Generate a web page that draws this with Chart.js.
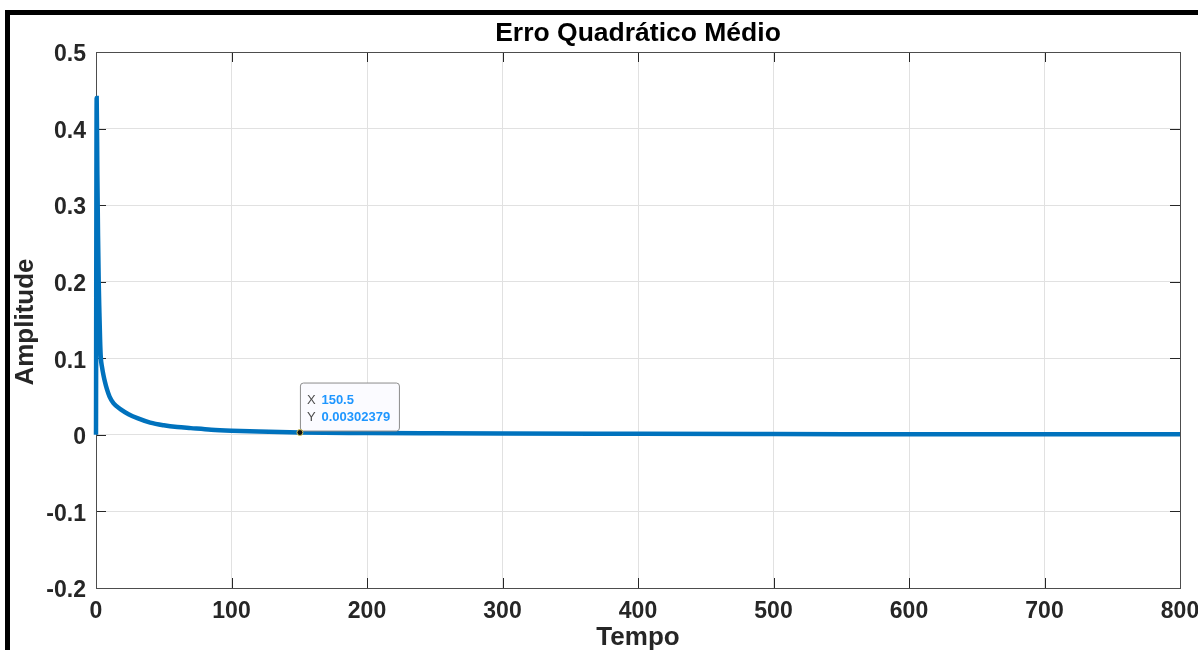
<!DOCTYPE html>
<html>
<head>
<meta charset="utf-8">
<title>Erro Quadrático Médio</title>
<script src="https://cdn.jsdelivr.net/npm/chart.js@4"></script>
<style>
    html, body { margin: 0; padding: 0; background: #fff; }
    #wrap { position: relative; width: 1198px; height: 650px; overflow: hidden; }
    #frame {
        position: absolute; left: 5px; top: 10px; width: 1193px; height: 640px;
        border-top: 5px solid #000; border-left: 5px solid #000; box-sizing: border-box;
    }
    #mseChart { position: absolute; left: 0; top: 0; }
</style>
</head>
<body>
<div id="wrap">
    <div id="frame"></div>
    <canvas id="mseChart" width="1198" height="650"></canvas>
</div>
<script>
// erro quadratico medio ao longo do tempo
const tempo = [0, 0.5, 1, 1.5, 2, 2.5, 3, 3.5, 4.5, 5.5, 6.5, 8, 10, 13, 18.5, 24, 31, 40, 50, 60, 70, 85, 100, 120, 150.5, 200, 250, 300, 400, 500, 600, 700, 800];
const erro = [0, 0.44, 0.34, 0.26, 0.2, 0.16, 0.125, 0.102, 0.088, 0.078, 0.07, 0.06, 0.05, 0.041, 0.033, 0.027, 0.0215, 0.016, 0.0125, 0.0102, 0.0088, 0.0068, 0.0055, 0.0043, 0.00302379, 0.0024, 0.002, 0.0017, 0.0013, 0.001, 0.0009, 0.0008, 0.0007];

// ponto marcado (datatip)
const tipX = 150.5;
const tipY = 0.00302379;

const titulo = 'Erro Quadrático Médio';
const tituloX = 'Tempo';
const tituloY = 'Amplitude';

const FONT = 'Liberation Sans, Arial, Helvetica, sans-serif';

// titulo e rotulos dos eixos
const titulos = {
    id: 'titulos',
    afterDraw(chart) {
        const { ctx, chartArea: a } = chart;
        const cx = (a.left + a.right) / 2;
        ctx.save();
        ctx.textAlign = 'center';
        ctx.textBaseline = 'alphabetic';

        ctx.fillStyle = '#000';
        ctx.font = 'bold 26.5px ' + FONT;
        ctx.fillText(titulo, cx, 41);

        ctx.fillStyle = '#262626';
        ctx.font = 'bold 26px ' + FONT;
        ctx.fillText(tituloX, cx, 645);

        ctx.translate(33, (a.top + a.bottom) / 2 + 2);
        ctx.rotate(-Math.PI / 2);
        ctx.fillText(tituloY, 0, 0);
        ctx.restore();
    }
};

// caixa do eixo com ticks para dentro, estilo matlab
const boxTicks = {
    id: 'boxTicks',
    beforeDatasetsDraw(chart) {
        const { ctx, chartArea: a, scales: { x, y } } = chart;
        const len = 10;
        ctx.save();
        ctx.strokeStyle = '#262626';
        ctx.lineWidth = 1;
        ctx.beginPath();
        x.ticks.forEach(t => {
            const px = Math.round(x.getPixelForValue(t.value)) + 0.5;
            ctx.moveTo(px, a.bottom); ctx.lineTo(px, a.bottom - len);
            ctx.moveTo(px, a.top); ctx.lineTo(px, a.top + len);
        });
        y.ticks.forEach(t => {
            const py = Math.round(y.getPixelForValue(t.value)) + 0.5;
            ctx.moveTo(a.left, py); ctx.lineTo(a.left + len, py);
            ctx.moveTo(a.right, py); ctx.lineTo(a.right - len, py);
        });
        ctx.stroke();
        ctx.strokeStyle = '#4d4d4d';
        ctx.strokeRect(Math.round(a.left) + 0.5, Math.round(a.top) + 0.5,
            Math.round(a.right - a.left), Math.round(a.bottom - a.top));
        ctx.restore();
    }
};

const dataTip = {
    id: 'dataTip',
    afterDatasetsDraw(chart) {
        const { ctx, scales: { x, y } } = chart;
        const px = x.getPixelForValue(tipX);
        const py = y.getPixelForValue(tipY);
        ctx.save();
        // caixa
        const bx = px + 0.5, by = py - 49.5, bw = 99, bh = 48;
        ctx.fillStyle = '#fbfbff';
        ctx.strokeStyle = '#8c8c8c';
        ctx.lineWidth = 1;
        ctx.beginPath();
        ctx.roundRect(bx, by, bw, bh, 3);
        ctx.fill();
        ctx.stroke();
        // texto
        ctx.textBaseline = 'middle';
        ctx.font = '13px ' + FONT;
        ctx.fillStyle = '#4d4d4d';
        ctx.fillText('X', bx + 6.5, by + 17);
        ctx.fillText('Y', bx + 6.5, by + 34);
        ctx.font = 'bold 13px ' + FONT;
        ctx.fillStyle = '#1e96ff';
        ctx.fillText(String(tipX), bx + 21, by + 17);
        ctx.fillText(String(tipY), bx + 21, by + 34);
        // marcador
        ctx.beginPath();
        ctx.arc(px, py, 3, 0, Math.PI * 2);
        ctx.fillStyle = '#111';
        ctx.fill();
        ctx.strokeStyle = '#d9c85a';
        ctx.lineWidth = 1;
        ctx.stroke();
        ctx.restore();
    }
};

const ctx = document.getElementById('mseChart').getContext('2d');
const mseChart = new Chart(ctx, {
    type: 'line',
    data: {
        datasets: [{
            label: 'EQM',
            data: tempo.map((t, i) => ({ x: t, y: erro[i] })),
            borderColor: '#0072bd',
            borderWidth: 4.5,
            pointRadius: 0,
            cubicInterpolationMode: 'monotone',
            fill: false,
            clip: 6
        }]
    },
    options: {
        responsive: false,
        animation: false,
        devicePixelRatio: 1,
        layout: { padding: { left: 0, right: 18, top: 52, bottom: 0 } },
        scales: {
            x: {
                type: 'linear',
                min: 0,
                max: 800,
                ticks: {
                    stepSize: 100,
                    padding: 10,
                    color: '#262626',
                    font: { family: FONT, size: 23, weight: 'bold' }
                },
                grid: { color: '#e1e1e1', drawTicks: false },
                border: { display: false },
                afterFit(s) {
                    s.height = 62;
                    s.paddingLeft = 0;
                    s.paddingRight = 0;
                }
            },
            y: {
                min: -0.2,
                max: 0.5,
                ticks: {
                    stepSize: 0.1,
                    padding: 10,
                    labelOffset: 3,
                    color: '#262626',
                    font: { family: FONT, size: 23, weight: 'bold' },
                    callback: v => String(Number(v.toFixed(1)))
                },
                grid: { color: '#e1e1e1', drawTicks: false },
                border: { display: false },
                afterFit(s) {
                    s.width = 96;
                    s.paddingTop = 0;
                    s.paddingBottom = 0;
                }
            }
        },
        plugins: {
            legend: { display: false },
            tooltip: { enabled: false },
            title: { display: false }
        }
    },
    plugins: [boxTicks, dataTip, titulos]
});
</script>
</body>
</html>
